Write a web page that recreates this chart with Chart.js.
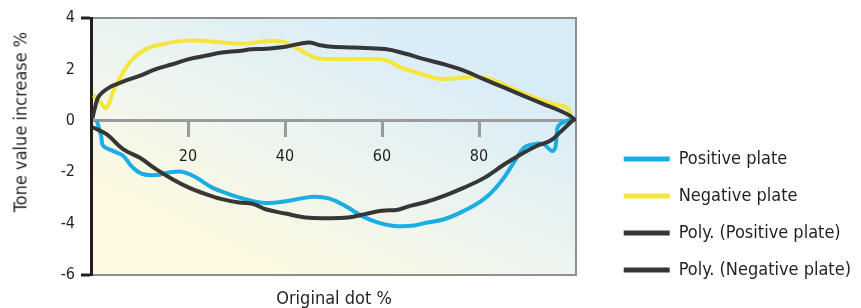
<!DOCTYPE html>
<html>
<head>
  <meta charset="utf-8">
  <title>Tone value increase</title>
  <script src="https://cdn.jsdelivr.net/npm/chart.js"></script>
  <style>
    body { margin: 0; background: #fff; }
    .wrap { position: relative; width: 861px; height: 308px; }
    .axis-title {
      position: absolute;
      font-family: 'Liberation Sans Narrow', 'Arial Narrow', 'DejaVu Sans Condensed', sans-serif;
      font-size: 18px;
      color: #231f20;
      white-space: nowrap;
      transform: translate(-50%, -50%);
    }
    #yTitle { left: 20px; top: 122px; transform: translate(-50%, -50%) rotate(-90deg); }
    #xTitle { left: 334px; top: 297px; }
  </style>
</head>
<body>
  <div class="wrap">
    <canvas id="toneChart"></canvas>
    <div id="yTitle" class="axis-title">Tone value increase %</div>
    <div id="xTitle" class="axis-title">Original dot %</div>
  </div>

  <script>
    // values (original dot %, tone value increase %)
    const seriesNames = ['Positive plate', 'Negative plate', 'Poly. (Positive plate)', 'Poly. (Negative plate)'];

    const posX = [1.2, 2.1, 2.5, 4.5, 6.6, 8.6, 10.6, 13.4, 16.1, 18.8, 21.6, 25, 28.4, 31.8, 36, 40.8, 45.5, 49, 52.4, 55.8, 59.2, 62.6, 66.7, 68.7, 72.8, 76.9, 81, 84.4, 87.2, 89.2, 91.3, 93.3, 95, 95.7, 96, 96.4, 98.1, 99.5];
    const posY = [0, -0.58, -0.97, -1.17, -1.36, -1.82, -2.07, -2.11, -2.01, -1.98, -2.2, -2.6, -2.85, -3.05, -3.2, -3.11, -2.96, -3.02, -3.31, -3.7, -3.96, -4.09, -4.07, -3.98, -3.83, -3.5, -3.05, -2.4, -1.62, -1.06, -0.91, -0.91, -1.17, -1.06, -0.58, -0.19, 0, 0.05];

    const negX = [0.5, 1.8, 3.2, 4.5, 6.6, 8.6, 11.3, 14.7, 18.8, 22.9, 27, 31.5, 35, 38, 40.1, 42.8, 46.2, 49.6, 54.4, 59.2, 61.2, 64, 66.7, 68.1, 71.5, 75.6, 79.7, 83.1, 87.2, 92, 95.4, 98.1, 99];
    const negY = [1.0, 0.75, 0.5, 1.1, 1.88, 2.4, 2.79, 2.98, 3.11, 3.11, 3.05, 3.0, 3.08, 3.11, 3.05, 2.79, 2.46, 2.4, 2.4, 2.4, 2.33, 2.07, 1.9, 1.82, 1.64, 1.66, 1.72, 1.56, 1.23, 0.86, 0.65, 0.52, 0.25];

    const polyPosX = [0.3, 3.2, 6.6, 10, 13.4, 16.8, 20.2, 23.6, 27, 30.5, 33.5, 36, 40.1, 44.2, 49, 53, 56.5, 59.9, 63.3, 66, 68.7, 72.8, 76.9, 81, 85.1, 88.5, 92, 94.7, 96.7, 99.5];
    const polyPosY = [-0.25, -0.52, -1.1, -1.43, -1.88, -2.27, -2.6, -2.85, -3.05, -3.18, -3.24, -3.44, -3.61, -3.76, -3.79, -3.76, -3.63, -3.5, -3.46, -3.3, -3.18, -2.92, -2.6, -2.23, -1.71, -1.32, -0.97, -0.78, -0.45, 0.05];

    const polyNegX = [0.3, 0.8, 1.6, 3.8, 6.6, 10, 13.4, 16.8, 20.2, 23.6, 27, 30.5, 33.2, 36, 40.1, 44.8, 47, 49, 54.4, 60.6, 64.7, 68.7, 72.8, 76.9, 81, 85.1, 89.2, 93.3, 96.7, 98.8, 100];
    const polyNegY = [0.1, 0.5, 0.95, 1.3, 1.52, 1.75, 2.01, 2.2, 2.4, 2.53, 2.66, 2.72, 2.78, 2.8, 2.88, 3.05, 2.95, 2.89, 2.85, 2.79, 2.62, 2.4, 2.2, 1.95, 1.62, 1.3, 0.97, 0.65, 0.39, 0.19, 0];

    const yTicks = [-6, -4, -2, 0, 2, 4];
    const xTicks = [20, 40, 60, 80];

    const FONT = "'Liberation Sans Narrow', 'Arial Narrow', 'DejaVu Sans Condensed', sans-serif";
    const TEXT = '#231f20';
    const GREY = '#8f8f8f';

    const pts = (xs, ys) => xs.map((x, i) => ({ x: x, y: ys[i] }));

    // soft blue-to-cream fill behind the plot
    const plotBackground = {
      id: 'plotBackground',
      beforeDraw(chart) {
        const { ctx, chartArea: a } = chart;
        const g = ctx.createLinearGradient(a.left + a.width * 0.35, a.bottom, a.left + a.width * 0.6, a.top);
        g.addColorStop(0, '#fdf9de');
        g.addColorStop(0.45, '#eef5ef');
        g.addColorStop(1, '#d8ecf8');
        ctx.save();
        ctx.fillStyle = g;
        ctx.fillRect(a.left, a.top, a.width, a.height);
        ctx.restore();
      }
    };

    const line = (label, data, color, order) => ({
      label: label,
      data: data,
      borderColor: color,
      backgroundColor: color,
      borderWidth: 4,
      pointRadius: 0,
      tension: 0.4,
      fill: false,
      order: order
    });

    const ctx = document.getElementById('toneChart').getContext('2d');
    new Chart(ctx, {
      type: 'line',
      data: {
        datasets: [
          line(seriesNames[0], pts(posX, posY), '#1badE4', 1),
          line(seriesNames[1], pts(negX, negY), '#f6e53a', 1),
          line(seriesNames[2], pts(polyPosX, polyPosY), '#363636', 0),
          line(seriesNames[3], pts(polyNegX, polyNegY), '#363636', 0)
        ]
      },
      options: {
        responsive: true,
        maintainAspectRatio: false,
        animation: false,
        layout: { padding: { top: 18, right: 0, bottom: 10, left: 0 } },
        plugins: {
          tooltip: { enabled: false },
          legend: {
            position: 'right',
            align: 'end',
            maxWidth: 320,
            labels: {
              boxWidth: 46,
              boxHeight: 5,
              padding: 19,
              color: TEXT,
              font: { family: FONT, size: 18 },
              sort: (a, b) => a.datasetIndex - b.datasetIndex,
              generateLabels: chart =>
                Chart.defaults.plugins.legend.labels.generateLabels(chart).map(l => Object.assign(l, { lineWidth: 0 }))
            }
          }
        },
        scales: {
          x: {
            type: 'linear',
            min: 0,
            max: 100,
            position: { y: 0 },
            afterBuildTicks: s => { s.ticks = [0].concat(xTicks, [100]).map(v => ({ value: v })); },
            ticks: {
              color: TEXT,
              font: { family: FONT, size: 16 },
              padding: 11,
              maxRotation: 0,
              autoSkip: false,
              callback: v => xTicks.includes(v) ? v : ''
            },
            grid: {
              drawOnChartArea: false,
              tickLength: 15,
              tickWidth: 3,
              tickColor: c => c.tick && xTicks.includes(c.tick.value) ? '#9b9b9b' : 'transparent'
            },
            border: { color: '#9b9b9b', width: 3 }
          },
          xb: {
            type: 'linear',
            min: 0,
            max: 100,
            position: 'bottom',
            ticks: { display: false },
            grid: { display: false, drawTicks: false },
            border: { display: false },
            afterFit: s => { s.height = 23; }
          },
          y: {
            min: -6,
            max: 4,
            afterBuildTicks: s => { s.ticks = yTicks.map(v => ({ value: v })); },
            ticks: {
              color: TEXT,
              font: { family: FONT, size: 16 },
              padding: 6
            },
            grid: {
              lineWidth: 2,
              tickLength: 10,
              tickWidth: 3,
              color: c => c.tick && (c.tick.value === 4 || c.tick.value === -6) ? GREY : 'transparent',
              tickColor: c => c.tick && (c.tick.value === 4 || c.tick.value === -6) ? TEXT : 'transparent'
            },
            border: { color: TEXT, width: 3 },
            afterFit: s => { s.width = 91; }
          },
          y2: {
            min: -6,
            max: 4,
            position: 'right',
            ticks: { display: false },
            grid: { display: false, drawTicks: false },
            border: { color: GREY, width: 2 },
            afterFit: s => { s.width = Math.max(0, 285 - s.chart.legend.width); }
          }
        }
      },
      plugins: [plotBackground]
    });
  </script>
</body>
</html>
